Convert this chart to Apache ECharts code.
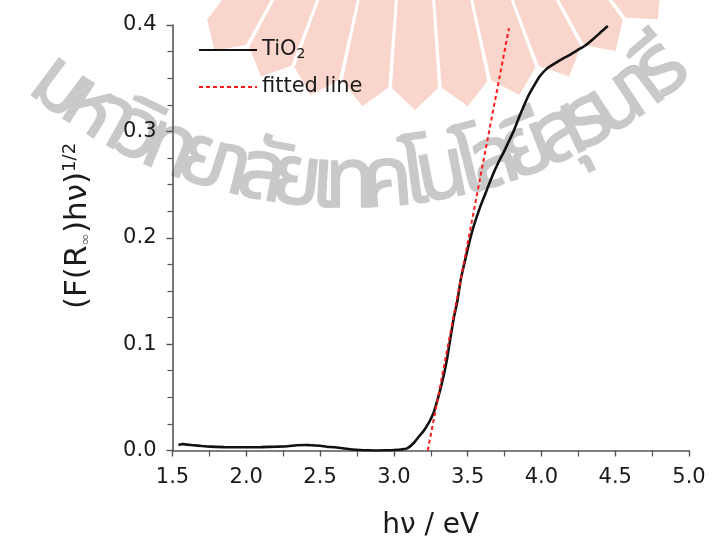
<!DOCTYPE html>
<html>
<head>
<meta charset="utf-8">
<style>
  html, body { margin: 0; padding: 0; background: #ffffff; }
  #chart { width: 712px; height: 537px; }
</style>
<script src="https://cdn.jsdelivr.net/npm/echarts@6/dist/echarts.min.js"></script>
</head>
<body>
<div id="chart"></div>
<script>
// Photon energy (eV) and Kubelka-Munk transformed reflectance of TiO2
var hv = [1.54, 1.56, 1.573, 1.60, 1.641, 1.70, 1.754, 1.85, 1.98, 2.10, 2.206, 2.28, 2.342, 2.40, 2.432, 2.50,
          2.545, 2.60, 2.658, 2.72, 2.77, 2.83, 2.884, 2.94, 3.00, 3.05, 3.09, 3.133, 3.178, 3.20, 3.24, 3.268,
          3.29, 3.314, 3.34, 3.359, 3.38, 3.404, 3.431, 3.455, 3.483, 3.51, 3.539, 3.585, 3.63, 3.67, 3.709,
          3.743, 3.777, 3.811, 3.845, 3.878, 3.91, 3.946, 3.99, 4.037, 4.08, 4.127, 4.18, 4.24, 4.30, 4.353,
          4.40, 4.45];
var kmValue = [0.0052, 0.0058, 0.006, 0.0055, 0.005, 0.0042, 0.0036, 0.0032, 0.003, 0.0032, 0.0036, 0.004, 0.005,
               0.0052, 0.005, 0.0045, 0.0036, 0.003, 0.002, 0.001, 0.0005, 0.0002, 0.0, 0.0002, 0.0005, 0.001,
               0.002, 0.0068, 0.0146, 0.018, 0.027, 0.035, 0.045, 0.057, 0.072, 0.085, 0.103, 0.123, 0.141,
               0.162, 0.179, 0.195, 0.210, 0.229, 0.245, 0.259, 0.271, 0.280, 0.290, 0.300, 0.312, 0.323, 0.333,
               0.342, 0.352, 0.359, 0.363, 0.367, 0.371, 0.376, 0.381, 0.387, 0.393, 0.399];

// Linear fit of the absorption edge (end points)
var fitX = [3.23, 3.78];
var fitY = [0.0, 0.397];

// Axis ranges and ticks
var xMin = 1.5, xMax = 5.0, xStep = 0.5;
var yMin = 0.0, yMax = 0.4, yStep = 0.1;

var seriesNames = ['TiO2', 'fitted line'];

// Background stamp: university name set on an arc, plus a petal emblem
var stampText = 'มหาวิทยาลัยเทคโนโลยีสุรนารี';

var FONT = 'DejaVu Sans';
var THAI_FONT = '"Noto Sans Thai", "Noto Sans Thai UI", Loma, Garuda, Kinnari, Norasi, "TlwgTypo", "Tlwg Typist", sans-serif';
var AXIS_COLOR = '#555555';
var TEXT_COLOR = '#1a1a1a';

function pairs(xs, ys) {
  var out = [];
  for (var i = 0; i < xs.length; i++) out.push([xs[i], ys[i]]);
  return out;
}

// Split Thai text into grapheme clusters so combining vowels stay on their base letter
function clusters(s) {
  if (typeof Intl !== 'undefined' && Intl.Segmenter) {
    var seg = new Intl.Segmenter('th', { granularity: 'grapheme' });
    return Array.from(seg.segment(s), function (p) { return p.segment; });
  }
  return s.match(/.[\u0E31\u0E34-\u0E3A\u0E47-\u0E4E]*/g);
}

function deg(d) { return d * Math.PI / 180; }

function stampGraphics() {
  var out = [];
  // petal emblem: elongated hexagons radiating from a point above the page
  var pcx = 415, pcy = -260, rIn = 215, rOut = 370;
  var step = 8.2, halfAng = 3.8;
  for (var k = -4; k <= 5; k++) {
    var a = deg(k * step);
    var ux = Math.sin(a), uy = Math.cos(a);
    var tx = Math.cos(a), ty = -Math.sin(a);
    var P = (function (ux, uy, tx, ty) {
      return function (r, t) { return [pcx + ux * r + tx * t, pcy + uy * r + ty * t]; };
    })(ux, uy, tx, ty);
    var wIn = (rIn + 18) * Math.sin(deg(halfAng));
    var wOut = (rOut - 22) * Math.sin(deg(halfAng));
    out.push({
      type: 'polygon', z: -20, silent: true,
      shape: { points: [P(rIn, 0), P(rIn + 18, wIn), P(rOut - 22, wOut), P(rOut, 0), P(rOut - 22, -wOut), P(rIn + 18, -wIn)] },
      style: { fill: '#fad5cb' }
    });
  }
  // arched lettering
  var parts = clusters(stampText);
  var fs = 84;
  var font = fs + 'px ' + THAI_FONT;
  var ctx = document.createElement('canvas').getContext('2d');
  ctx.font = font;
  var widths = parts.map(function (p) { return Math.max(ctx.measureText(p).width, fs * 0.2); });
  var total = widths.reduce(function (s, w) { return s + w; }, 0);
  var cx = 350, cy = -300, R = 490;
  var a0 = deg(-39), a1 = deg(42);
  var acc = 0;
  for (var i = 0; i < parts.length; i++) {
    var ang = a0 + (a1 - a0) * (acc + widths[i] / 2) / total;
    acc += widths[i];
    out.push({
      type: 'text', z: -10, silent: true,
      x: cx + R * Math.sin(ang), y: cy + R * Math.cos(ang),
      rotation: ang,
      style: { text: parts[i], font: font, fill: '#c9c9c9', stroke: '#c9c9c9', lineWidth: 1.5,
               align: 'center', verticalAlign: 'middle' }
    });
  }
  return out;
}

var chart = echarts.init(document.getElementById('chart'), null, { renderer: 'canvas' });

var legendText = {
  fontFamily: FONT, fontSize: 21, color: TEXT_COLOR, lineHeight: 24,
  rich: { sub: { fontFamily: FONT, fontSize: 14, color: TEXT_COLOR, padding: [9, 0, 0, 0] } }
};

var graphics = stampGraphics();
graphics.push({
  type: 'text',
  x: 78, y: 226,
  rotation: Math.PI / 2,
  style: {
    text: '(F(R{sub|∞})hν){sup|1/2}',
    fontFamily: FONT, fontSize: 31, fill: TEXT_COLOR,
    align: 'center', verticalAlign: 'middle',
    rich: {
      sub: { fontFamily: FONT, fontSize: 15, fill: '#777777', padding: [16, 0, 0, 0] },
      sup: { fontFamily: FONT, fontSize: 18, fill: TEXT_COLOR, padding: [0, 0, 16, 0] }
    }
  }
});

chart.setOption({
  animation: false,
  backgroundColor: '#ffffff',
  grid: { left: 172.5, right: 23, top: 25, bottom: 86.5, containLabel: false, outerBoundsMode: 'none' },
  legend: [
    {
      data: [seriesNames[0]], left: 198, top: 38, padding: 0, orient: 'vertical',
      itemWidth: 58, itemHeight: 14, itemGap: 0,
      itemStyle: { opacity: 0 },
      formatter: function () { return 'TiO{sub|2}'; },
      textStyle: legendText
    },
    {
      data: [seriesNames[1]], left: 198, top: 75, padding: 0, orient: 'vertical',
      itemWidth: 58, itemHeight: 14, itemGap: 0,
      itemStyle: { opacity: 0 },
      textStyle: legendText
    }
  ],
  xAxis: {
    type: 'value', min: xMin, max: xMax, interval: xStep,
    name: 'hν / eV', nameLocation: 'middle', nameGap: 61,
    nameTextStyle: { fontFamily: FONT, fontSize: 28, color: TEXT_COLOR },
    axisLine: { show: true, onZero: false, lineStyle: { color: AXIS_COLOR, width: 1.6 } },
    axisTick: { show: true, inside: false, length: 6, lineStyle: { color: AXIS_COLOR, width: 1.4 } },
    minorTick: { show: true, splitNumber: 2, length: 6, lineStyle: { color: AXIS_COLOR, width: 1.2 } },
    axisLabel: {
      fontFamily: FONT, fontSize: 21, color: TEXT_COLOR, margin: 17,
      formatter: function (v) { return v.toFixed(1); }
    },
    splitLine: { show: false }
  },
  yAxis: {
    type: 'value', min: yMin, max: yMax, interval: yStep,
    axisLine: { show: true, onZero: false, lineStyle: { color: AXIS_COLOR, width: 1.6 } },
    axisTick: { show: true, inside: false, length: 6, lineStyle: { color: AXIS_COLOR, width: 1.4 } },
    minorTick: { show: true, splitNumber: 4, length: 5, lineStyle: { color: AXIS_COLOR, width: 1.2 } },
    axisLabel: {
      fontFamily: FONT, fontSize: 21, color: TEXT_COLOR, margin: 16,
      formatter: function (v) { return v.toFixed(1); }
    },
    splitLine: { show: false }
  },
  graphic: graphics,
  series: [
    {
      name: seriesNames[0], type: 'line', data: pairs(hv, kmValue),
      symbol: 'none', smooth: 0.2,
      lineStyle: { color: '#111111', width: 2.6 },
      itemStyle: { color: '#111111' },
      z: 2
    },
    {
      name: seriesNames[1], type: 'line', data: pairs(fitX, fitY),
      symbol: 'none',
      lineStyle: { color: '#ff1a1a', width: 2, type: [4, 3] },
      itemStyle: { color: '#ff1a1a' },
      z: 3
    }
  ]
});
</script>
</body>
</html>
